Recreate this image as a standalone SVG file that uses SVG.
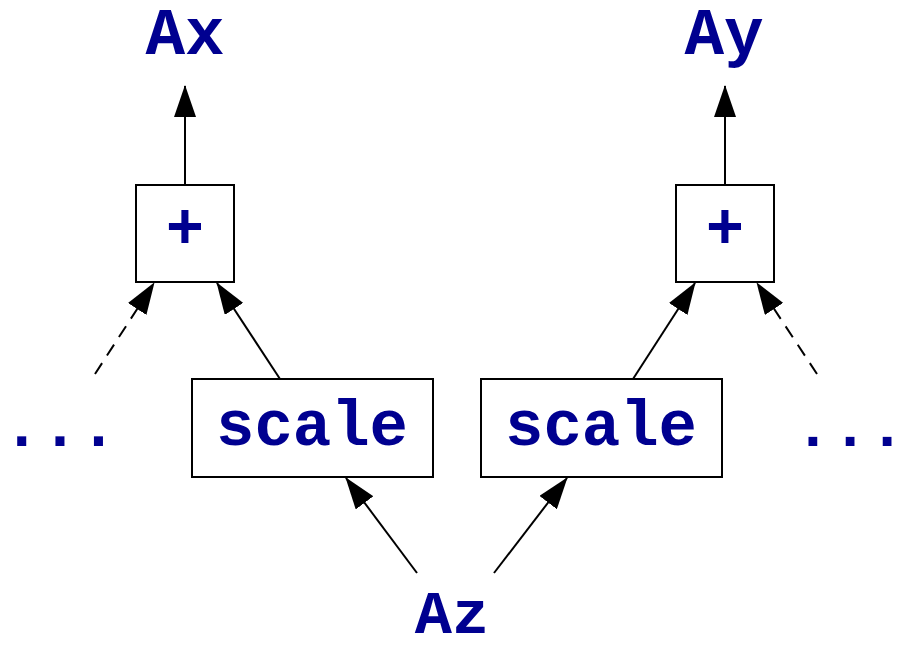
<svg xmlns="http://www.w3.org/2000/svg" width="906" height="652" viewBox="0 0 906 652">
  <style>
    .box { fill: #ffffff; stroke: #000000; stroke-width: 2; }
    .lbl { font-family: "Liberation Mono", "Courier New", monospace; font-weight: bold; fill: #000090; text-anchor: middle; }
    .edge { stroke: #000000; stroke-width: 2; fill: none; marker-end: url(#head); }
    .dash { stroke-dasharray: 13 9; }
  </style>
  <defs>
    <marker id="head" markerUnits="userSpaceOnUse" markerWidth="32" markerHeight="22" refX="31" refY="11" orient="auto" viewBox="0 0 32 22">
      <path d="M0,0 L32,11 L0,22 Z" fill="#000000"/>
    </marker>
  </defs>
  <rect width="906" height="652" fill="#ffffff"/>

  <g id="connectors">
    <line class="edge" x1="185" y1="184" x2="185" y2="86"/>
    <line class="edge" x1="725" y1="184" x2="725" y2="86"/>
    <line class="edge dash" x1="95" y1="374" x2="154" y2="283"/>
    <line class="edge" x1="280" y1="379" x2="217" y2="283"/>
    <line class="edge" x1="633" y1="379" x2="695" y2="283"/>
    <line class="edge dash" x1="817" y1="374" x2="757" y2="283"/>
    <line class="edge" x1="417" y1="573" x2="346" y2="478"/>
    <line class="edge" x1="494" y1="573" x2="567" y2="478"/>
  </g>

  <g id="Ax"><text class="lbl" x="185" y="54" font-size="66">Ax</text></g>
  <g id="Ay"><text class="lbl" x="724" y="54" font-size="66">Ay</text></g>

  <g id="plus-left">
    <rect class="box" x="136" y="185" width="98" height="97"/>
    <text class="lbl" x="185" y="248" font-size="64">+</text>
  </g>
  <g id="plus-right">
    <rect class="box" x="676" y="185" width="98" height="97"/>
    <text class="lbl" x="725" y="248" font-size="64">+</text>
  </g>

  <g id="scale-left">
    <rect class="box" x="192" y="379" width="241" height="98"/>
    <text class="lbl" x="312" y="445" font-size="64">scale</text>
  </g>
  <g id="scale-right">
    <rect class="box" x="481" y="379" width="241" height="98"/>
    <text class="lbl" x="601" y="445" font-size="64">scale</text>
  </g>

  <g id="dots-left"><text class="lbl" x="60" y="446" font-size="64">...</text></g>
  <g id="dots-right"><text class="lbl" x="850" y="446" font-size="62">...</text></g>

  <g id="Az"><text class="lbl" x="452" y="633" font-size="62">Az</text></g>
</svg>
